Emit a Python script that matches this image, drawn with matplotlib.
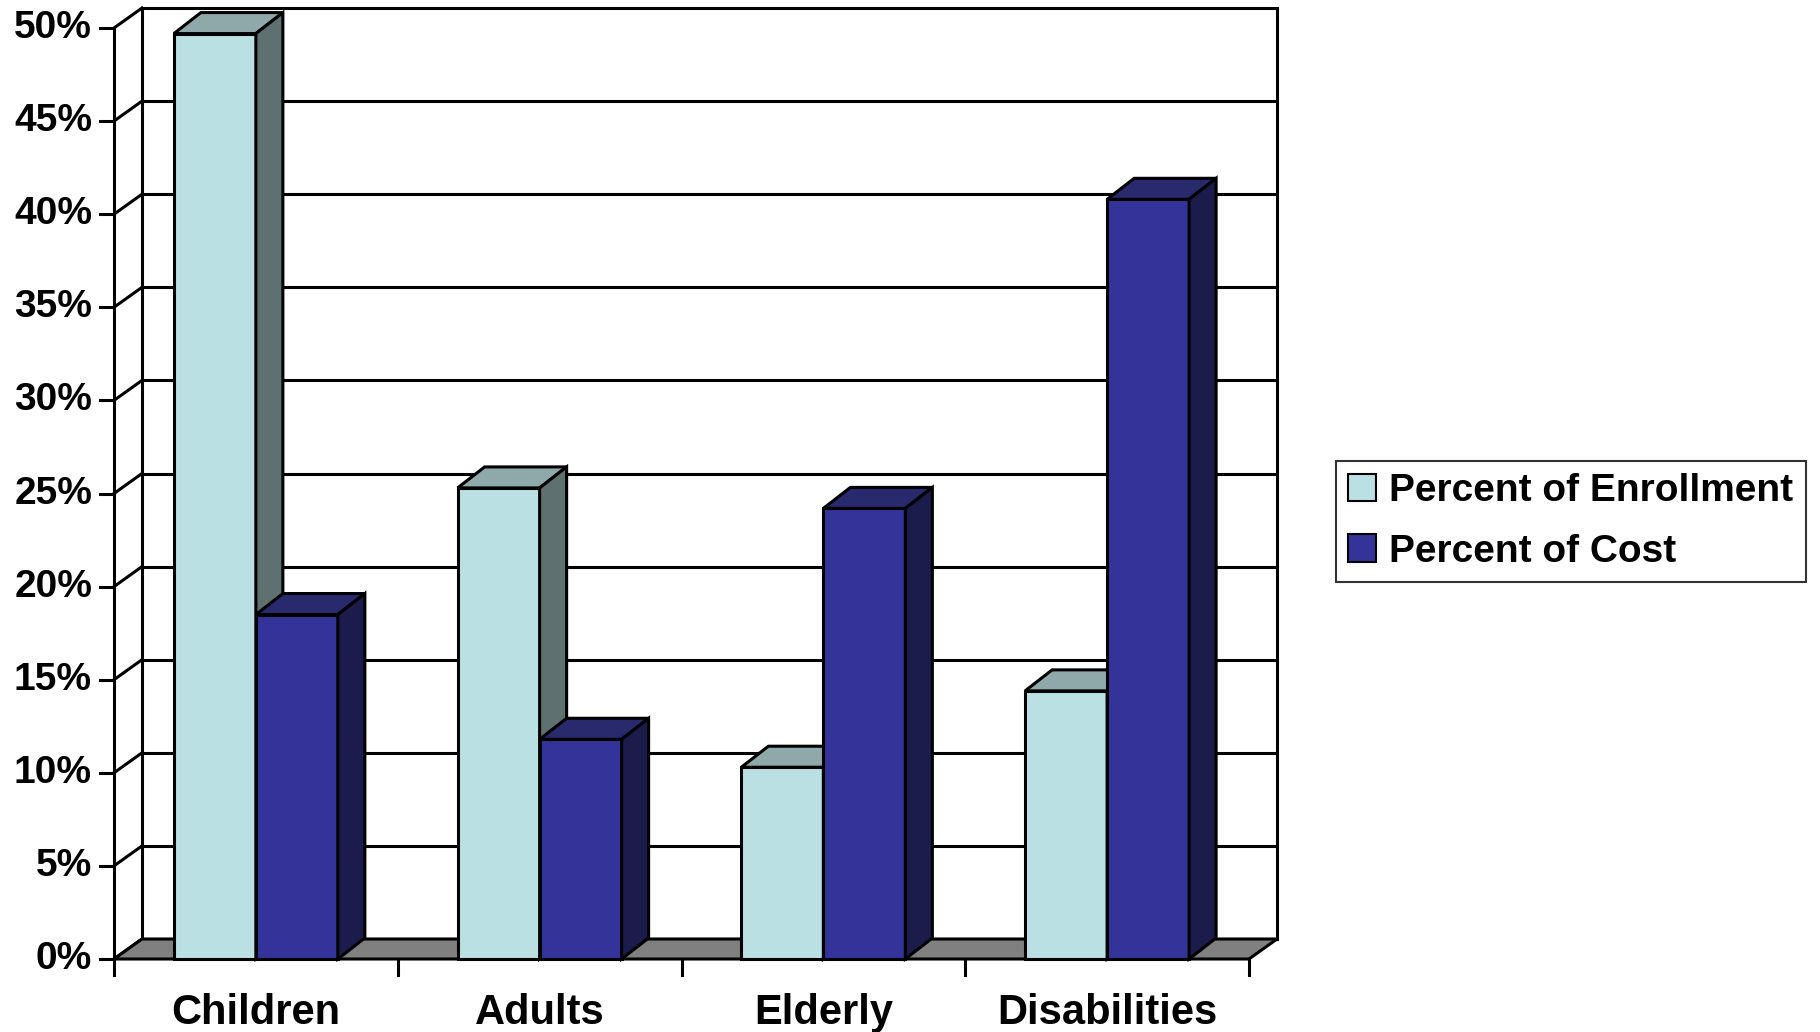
import matplotlib.pyplot as plt
from matplotlib.patches import Polygon

# data
categories = ['Children', 'Adults', 'Elderly', 'Disabilities']
enrollment = [49.7, 25.3, 10.3, 14.4]
cost = [18.5, 11.8, 24.2, 40.8]
series_names = ['Percent of Enrollment', 'Percent of Cost']
yticks = [0, 5, 10, 15, 20, 25, 30, 35, 40, 45, 50]

plt.rcParams['font.family'] = ['Liberation Sans', 'DejaVu Sans']
plt.rcParams['font.weight'] = 'bold'

W, H = 1820, 1032
fig = plt.figure(figsize=(W / 100, H / 100), dpi=100)
ax = fig.add_axes([0, 0, 1, 1])
ax.axis('off')

# pixel mapping: x=0 -> 114px, x=4 -> 1249px ; y=0 -> 959px (top), y=50 -> 28px
px_x = (1249 - 114) / 4.0
px_y = (959 - 28) / 50.0
ax.set_xlim(-114 / px_x, (W - 114) / px_x)
ax.set_ylim(-(H - 959) / px_y, 959 / px_y)

# wall depth offsets
wdx = 28 / px_x
wdy = 20 / px_y
# bar depth offsets
bdx = 27 / px_x
bdy = 21 / px_y

ncat = len(categories)
ymax = yticks[-1]
lw = 2.2

# floor
floor = Polygon([(0, 0), (ncat, 0), (ncat + wdx, wdy), (wdx, wdy)],
                closed=True, facecolor='#808080', edgecolor='black', lw=lw, zorder=1)
ax.add_patch(floor)

# back wall gridlines and left wall diagonals
for v in yticks:
    ax.plot([wdx, ncat + wdx], [v + wdy, v + wdy], color='black', lw=lw, zorder=0.5)
    ax.plot([0, wdx], [v, v + wdy], color='black', lw=lw, zorder=0.5)
    ax.plot([-14 / px_x, 0], [v, v], color='black', lw=lw, zorder=0.5)
    ax.text(-22 / px_x, v, f'{v}%', ha='right', va='center', fontsize=28,
            fontweight='bold')

ax.plot([0, 0], [0, ymax], color='black', lw=lw, zorder=0.5)
ax.plot([wdx, wdx], [wdy, ymax + wdy], color='black', lw=lw, zorder=0.5)
ax.plot([ncat + wdx, ncat + wdx], [wdy, ymax + wdy], color='black', lw=lw, zorder=0.5)

# category ticks and labels
for i in range(ncat + 1):
    ax.plot([i, i], [0, -16 / px_y], color='black', lw=lw, zorder=2)
for i, c in enumerate(categories):
    ax.text(i + 0.5, -54 / px_y, c, ha='center', va='center', fontsize=30,
            fontweight='bold')

bw = 82 / px_x
face_cols = [('#BBE0E3', '#8FA9AA', '#5F7070'), ('#333399', '#29296E', '#1B1B4C')]


def bar3d(x0, h, cols, z):
    front, top, side = cols
    ax.add_patch(Polygon([(x0, 0), (x0 + bw, 0), (x0 + bw, h), (x0, h)],
                         facecolor=front, edgecolor='black', lw=lw, zorder=z))
    ax.add_patch(Polygon([(x0, h), (x0 + bw, h), (x0 + bw + bdx, h + bdy), (x0 + bdx, h + bdy)],
                         facecolor=top, edgecolor='black', lw=lw, zorder=z))
    ax.add_patch(Polygon([(x0 + bw, 0), (x0 + bw + bdx, bdy), (x0 + bw + bdx, h + bdy), (x0 + bw, h)],
                         facecolor=side, edgecolor='black', lw=lw, zorder=z))


for i in range(ncat):
    bar3d(i + 0.5 - bw, enrollment[i], face_cols[0], 3)
    bar3d(i + 0.5, cost[i], face_cols[1], 4)

# legend
handles = [plt.Rectangle((0, 0), 1, 1, facecolor=face_cols[k][0], edgecolor='black', lw=1.5)
           for k in range(2)]
leg = fig.legend(handles, series_names, loc='upper left',
                 bbox_to_anchor=(1336 / W, 1 - 461 / H), fontsize=28,
                 frameon=True, fancybox=False, edgecolor='black',
                 handlelength=0.7, handleheight=0.7, handletextpad=0.35,
                 borderpad=0.32, labelspacing=0.62, borderaxespad=0)
leg.get_frame().set_linewidth(1.5)
for t in leg.get_texts():
    t.set_fontweight('bold')

fig.savefig('out.png', dpi=100)
